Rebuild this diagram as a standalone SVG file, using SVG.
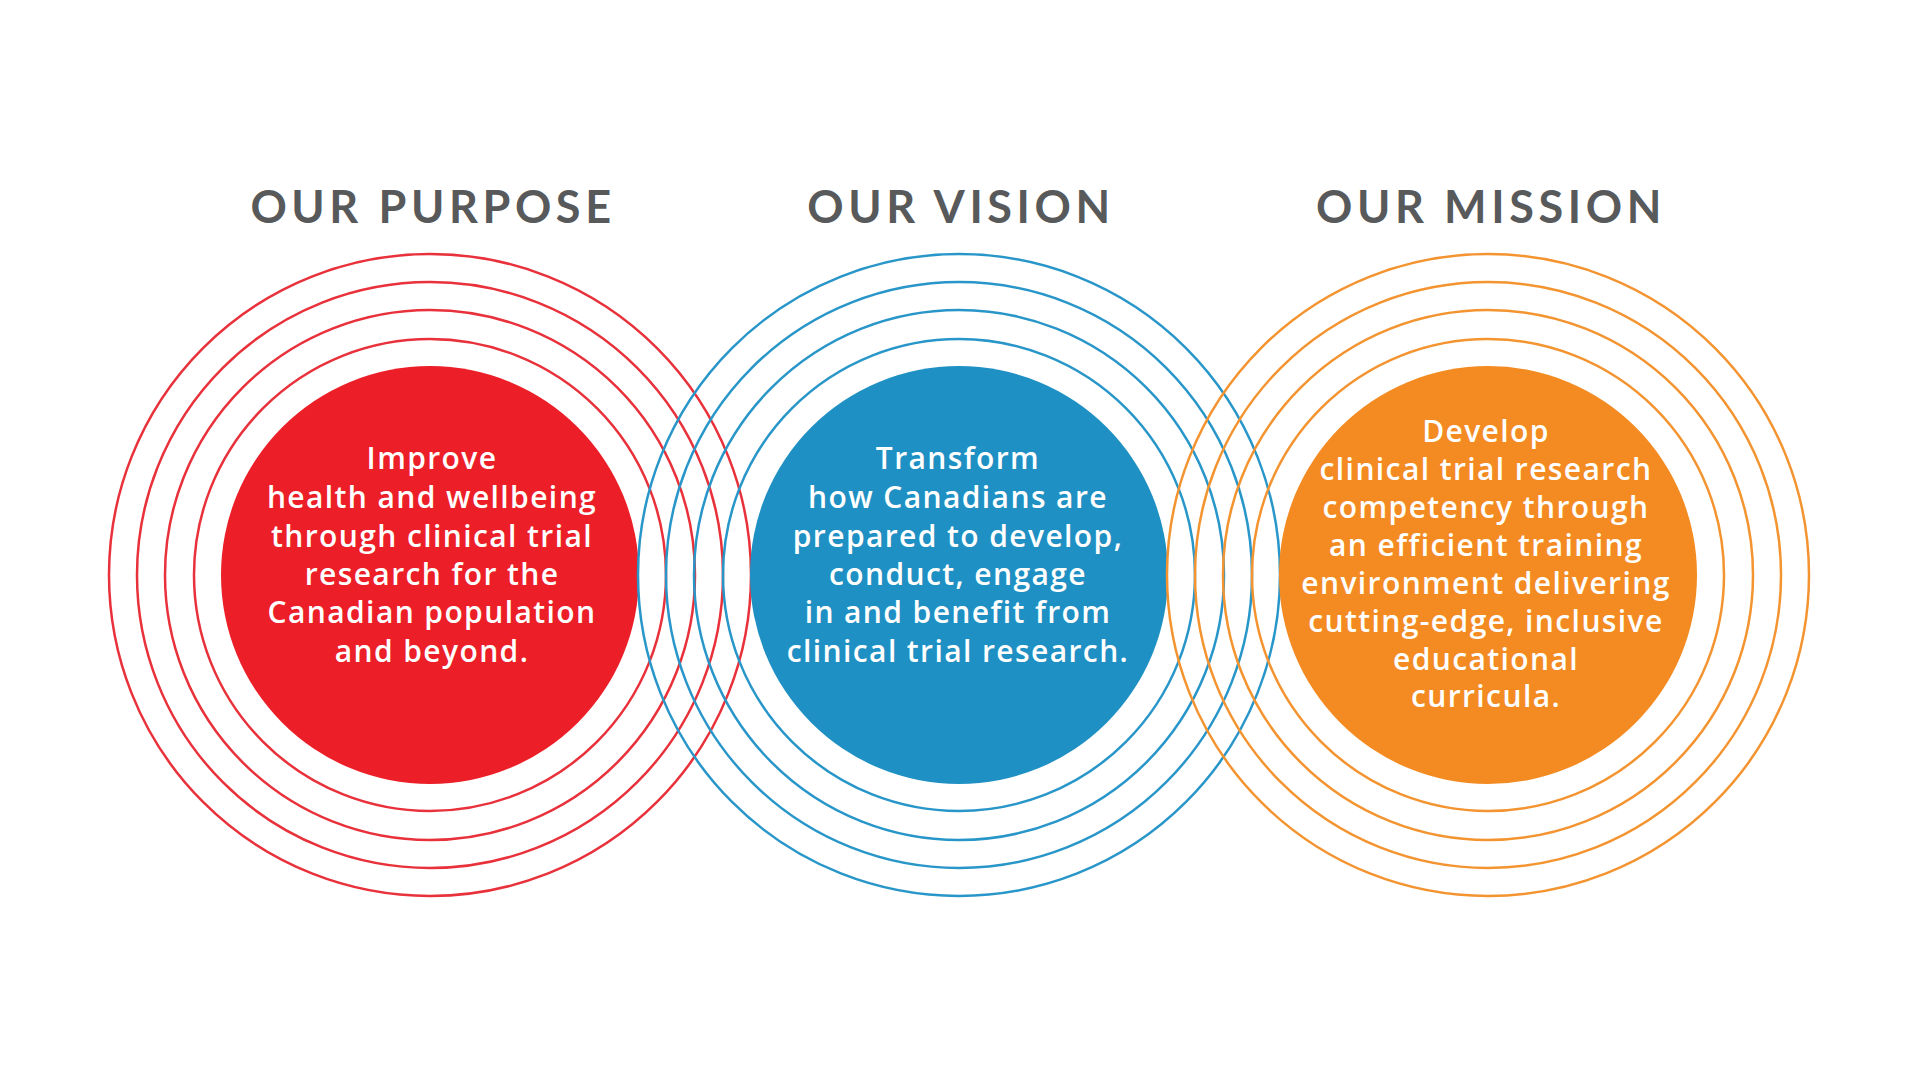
<svg xmlns="http://www.w3.org/2000/svg" width="1920" height="1080" viewBox="0 0 1920 1080">
<style>
.bg{fill:#ffffff}
.title{font-family:"Lato","Open Sans",sans-serif;font-weight:700;font-size:45px;fill:#58595b;text-anchor:middle;letter-spacing:4.6px}
.body{font-family:"Open Sans","Lato",sans-serif;font-weight:600;font-size:30px;fill:#ffffff;text-anchor:middle;letter-spacing:1.4px}
.ring{fill:none;stroke-width:2.5}
.red .ring{stroke:#e8313a}
.blue .ring{stroke:#2996c9}
.orange .ring{stroke:#f39431}
.red .core{fill:#ec1e27}
.blue .core{fill:#1f90c3}
.orange .core{fill:#f38b22}
</style>
<rect class="bg" x="0" y="0" width="1920" height="1080"/>
<g id="purpose" class="red">
<circle class="ring" cx="430" cy="575" r="321"/>
<circle class="ring" cx="430" cy="575" r="293"/>
<circle class="ring" cx="430" cy="575" r="265"/>
<circle class="ring" cx="430" cy="575" r="236"/>
<circle class="core" cx="430" cy="575" r="209"/>
<text class="title" x="433" y="223">OUR PURPOSE</text>
<text class="body" x="432" y="469">Improve</text>
<text class="body" x="432" y="508">health and wellbeing</text>
<text class="body" x="432" y="547">through clinical trial</text>
<text class="body" x="432" y="585">research for the</text>
<text class="body" x="432" y="623">Canadian population</text>
<text class="body" x="432" y="662">and beyond.</text>
</g>
<g id="vision" class="blue">
<circle class="ring" cx="959" cy="575" r="321"/>
<circle class="ring" cx="959" cy="575" r="293"/>
<circle class="ring" cx="959" cy="575" r="265"/>
<circle class="ring" cx="959" cy="575" r="236"/>
<circle class="core" cx="959" cy="575" r="209"/>
<text class="title" x="961" y="223">OUR VISION</text>
<text class="body" x="958" y="469">Transform</text>
<text class="body" x="958" y="508">how Canadians are</text>
<text class="body" x="958" y="547">prepared to develop,</text>
<text class="body" x="958" y="585">conduct, engage</text>
<text class="body" x="958" y="623">in and benefit from</text>
<text class="body" x="958" y="662">clinical trial research.</text>
</g>
<g id="mission" class="orange">
<circle class="ring" cx="1488" cy="575" r="321"/>
<circle class="ring" cx="1488" cy="575" r="293"/>
<circle class="ring" cx="1488" cy="575" r="265"/>
<circle class="ring" cx="1488" cy="575" r="236"/>
<circle class="core" cx="1488" cy="575" r="209"/>
<text class="title" x="1491" y="223">OUR MISSION</text>
<text class="body" x="1486" y="442">Develop</text>
<text class="body" x="1486" y="480">clinical trial research</text>
<text class="body" x="1486" y="518">competency through</text>
<text class="body" x="1486" y="556">an efficient training</text>
<text class="body" x="1486" y="594">environment delivering</text>
<text class="body" x="1486" y="632">cutting-edge, inclusive</text>
<text class="body" x="1486" y="670">educational</text>
<text class="body" x="1486" y="707">curricula.</text>
</g>
<g id="connectors"/>
</svg>
